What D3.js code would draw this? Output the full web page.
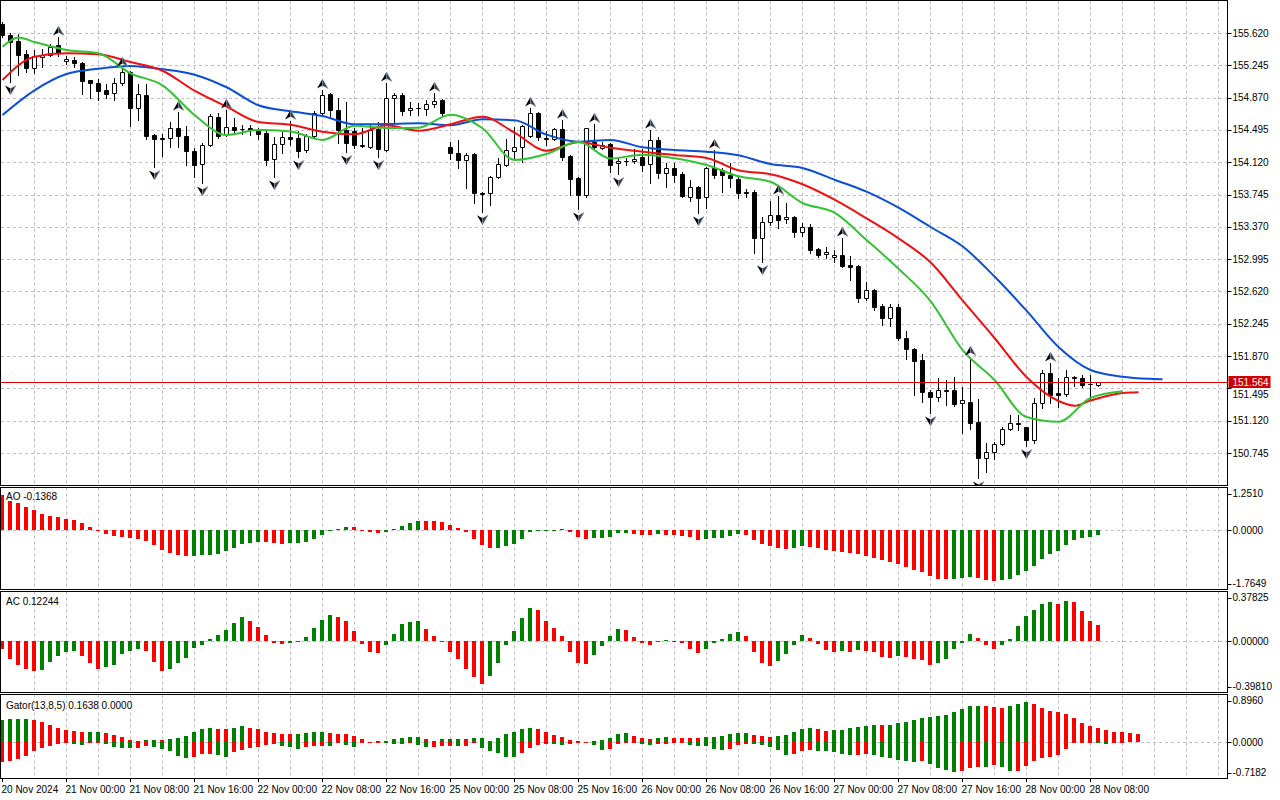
<!DOCTYPE html>
<html>
<head>
<meta charset="utf-8">
<script src="https://cdn.jsdelivr.net/npm/d3@7"></script>
<style>
  body { margin: 0; background: #fff; }
  svg { display: block; }
  text { font-family: "Liberation Sans", Arial, sans-serif; font-size: 10px; fill: #000; }
</style>
</head>
<body>
<svg id="chart" width="1280" height="800"></svg>
<script>
// USDJPY H1, 20 Nov 16:00 .. 28 Nov 09:00
var barOpen = [155.724,155.597,155.527,155.376,155.214,155.341,155.365,155.481,155.295,155.307,
  155.272,155.074,155.040,154.958,154.924,155.040,155.167,154.750,154.900,154.436,
  154.401,154.401,154.517,154.424,154.250,154.099,154.320,154.645,154.448,154.529,
  154.506,154.517,154.494,154.459,154.157,154.332,154.413,154.401,154.262,154.424,
  154.691,154.908,154.726,154.494,154.483,154.309,154.300,154.502,154.262,154.862,
  154.900,154.726,154.746,154.734,154.796,154.842,154.293,154.224,154.146,154.216,
  153.759,153.759,153.945,154.088,154.254,154.293,154.424,154.695,154.401,154.386,
  154.502,154.192,153.934,153.740,154.358,154.282,154.328,154.108,154.134,154.134,
  154.184,154.096,154.378,153.998,154.050,153.983,153.720,153.836,153.713,154.050,
  154.030,153.972,153.929,153.771,153.778,153.244,153.423,153.508,153.458,153.481,
  153.314,153.365,153.113,153.051,153.017,153.043,152.927,152.916,152.541,152.637,
  152.451,152.309,152.436,152.076,151.949,151.825,151.457,151.392,151.468,151.476,
  151.322,151.341,151.101,150.690,150.753,150.850,151.020,151.097,151.043,150.896,
  151.329,151.677,151.445,151.430,151.631,151.612,151.546,151.534];
var barHigh = [155.748,155.620,155.608,155.423,155.423,155.434,155.492,155.574,155.353,155.341,
  155.283,155.074,155.086,155.028,155.098,155.214,155.179,155.028,155.028,154.448,
  154.448,154.587,154.703,154.541,154.285,154.343,154.680,154.691,154.726,154.634,
  154.552,154.552,154.517,154.483,154.413,154.471,154.599,154.483,154.448,154.715,
  154.958,154.920,154.862,154.819,154.517,154.517,154.552,154.590,155.040,154.920,
  154.920,154.823,154.811,154.842,154.924,154.850,154.358,154.378,154.224,154.224,
  153.778,153.960,154.166,154.386,154.532,154.552,154.750,154.707,154.486,154.514,
  154.610,154.204,153.952,154.517,154.564,154.358,154.340,154.184,154.166,154.270,
  154.270,154.494,154.416,154.108,154.108,154.010,153.914,153.844,154.065,154.262,
  154.050,154.108,153.943,153.806,153.798,153.488,153.670,153.728,153.647,153.496,
  153.411,153.403,153.121,153.140,153.101,153.241,153.032,152.927,152.733,152.645,
  152.475,152.475,152.475,152.165,151.960,151.894,151.476,151.612,151.592,151.631,
  151.515,151.859,151.368,150.858,150.876,151.043,151.186,151.186,151.050,151.380,
  151.708,151.790,151.612,151.708,151.639,151.650,151.650,151.573];
var barLow = [155.574,155.051,155.133,155.167,155.156,155.225,155.353,155.353,155.260,155.225,
  154.912,154.866,154.842,154.866,154.842,155.016,154.541,154.610,154.390,154.065,
  154.192,154.297,154.297,154.088,153.949,153.879,154.309,154.401,154.424,154.471,
  154.448,154.436,154.390,154.088,153.949,154.227,154.320,154.181,154.239,154.413,
  154.680,154.642,154.340,154.239,154.285,154.297,154.282,154.181,154.250,154.590,
  154.668,154.668,154.668,154.668,154.765,154.668,154.154,154.050,153.817,153.643,
  153.546,153.624,153.934,154.076,154.146,154.126,154.416,154.378,154.320,154.378,
  154.146,153.740,153.577,153.716,154.282,154.274,154.007,153.983,154.088,154.115,
  154.022,153.875,153.934,153.829,153.894,153.713,153.673,153.531,153.585,153.934,
  153.778,153.836,153.701,153.713,153.063,152.962,153.391,153.353,153.411,153.249,
  153.264,153.070,153.024,153.005,152.965,152.904,152.753,152.501,152.521,152.405,
  152.231,152.223,152.057,151.833,151.418,151.341,151.209,151.352,151.302,151.291,
  150.981,151.020,150.455,150.528,150.672,150.838,151.012,151.012,150.826,150.858,
  151.264,151.322,151.283,151.407,151.523,151.515,151.368,151.523];
var barClose = [155.597,155.515,155.365,155.214,155.353,155.365,155.457,155.388,155.318,155.272,
  155.063,155.040,154.947,154.912,155.040,155.167,154.750,154.912,154.424,154.390,
  154.384,154.517,154.424,154.250,154.088,154.320,154.657,154.424,154.529,154.494,
  154.500,154.494,154.448,154.146,154.332,154.413,154.390,154.250,154.424,154.691,
  154.900,154.726,154.494,154.343,154.320,154.320,154.494,154.270,154.862,154.900,
  154.718,154.746,154.744,154.796,154.831,154.688,154.231,154.146,154.204,153.759,
  153.756,153.952,154.099,154.262,154.293,154.541,154.695,154.416,154.390,154.502,
  154.184,153.922,153.740,154.514,154.300,154.320,154.088,154.134,154.131,154.157,
  154.088,154.378,153.998,154.050,153.972,153.728,153.829,153.708,154.050,153.972,
  153.972,153.934,153.759,153.766,153.244,153.423,153.508,153.450,153.481,153.314,
  153.365,153.101,153.043,153.082,153.043,152.916,152.907,152.541,152.637,152.443,
  152.309,152.436,152.076,151.949,151.816,151.457,151.392,151.476,151.473,151.314,
  151.360,151.090,150.690,150.753,150.850,151.020,151.097,151.078,150.896,151.329,
  151.677,151.418,151.418,151.624,151.612,151.534,151.542,151.564];

// Alligator lines, read at every 4th bar (already shifted forward)
var jawBars = [0,4,8,12,16,20,24,28,32,36,40,44,48,52,56,60,64,68,72,76,80,84,88,92,96,100,104,108,112,116,120,124,128,132,136,140,144,145];
var jawValues = [154.668,154.955,155.144,155.206,155.237,155.199,155.136,154.990,154.781,154.711,
  154.657,154.560,154.564,154.572,154.549,154.618,154.607,154.440,154.358,154.378,
  154.293,154.262,154.242,154.200,154.099,154.053,153.917,153.778,153.592,153.368,
  153.144,152.794,152.397,151.975,151.708,151.631,151.604,151.600];
var teethBars = [0,4,8,12,16,20,24,28,32,36,40,44,48,52,56,60,64,68,72,76,80,84,88,92,96,100,104,108,112,116,120,124,128,132,134,136,140,142];
var teethValues = [155.074,155.345,155.384,155.373,155.283,155.182,154.950,154.765,154.587,154.556,
  154.474,154.444,154.549,154.486,154.560,154.648,154.463,154.254,154.351,154.288,
  154.242,154.204,154.169,154.026,153.980,153.864,153.685,153.469,153.237,152.958,
  152.517,152.080,151.627,151.349,151.294,151.353,151.442,151.450];
var lipsBars = [0,2,4,8,12,16,20,24,28,32,36,40,44,48,52,56,60,64,68,72,76,80,84,88,92,96,100,104,108,112,116,120,124,128,132,136,140];
var lipsValues = [155.461,155.568,155.516,155.423,155.384,155.152,155.013,154.668,154.436,154.494,
  154.477,154.378,154.544,154.517,154.521,154.672,154.514,154.146,154.216,154.358,
  154.163,154.207,154.166,154.088,153.957,153.894,153.647,153.534,153.217,152.884,
  152.509,151.941,151.592,151.163,151.108,151.383,151.461];

var upFractals = [7,15,22,28,36,40,48,54,66,70,74,81,89,97,105,121,131];
var downFractals = [1,19,25,34,37,43,47,60,72,77,87,95,116,122,128];

var aoValues = [1.06,0.88,0.83,0.71,0.60,0.48,0.43,0.40,0.35,0.31,
  0.23,0.09,0.02,-0.10,-0.16,-0.20,-0.23,-0.26,-0.32,-0.43,
  -0.60,-0.68,-0.76,-0.79,-0.78,-0.75,-0.74,-0.72,-0.62,-0.54,
  -0.40,-0.37,-0.35,-0.36,-0.37,-0.40,-0.38,-0.37,-0.35,-0.26,
  -0.13,0.01,0.03,0.10,0.09,-0.02,-0.04,-0.07,-0.04,0.03,
  0.13,0.23,0.29,0.28,0.27,0.25,0.17,0.07,-0.06,-0.25,
  -0.43,-0.54,-0.53,-0.47,-0.41,-0.25,-0.06,-0.02,0.01,0.02,
  0.03,-0.06,-0.19,-0.25,-0.24,-0.23,-0.19,-0.09,-0.07,-0.10,
  -0.13,-0.14,-0.10,-0.13,-0.14,-0.16,-0.20,-0.28,-0.27,-0.23,
  -0.22,-0.16,-0.12,-0.13,-0.28,-0.40,-0.46,-0.53,-0.55,-0.53,
  -0.46,-0.51,-0.53,-0.59,-0.61,-0.65,-0.70,-0.73,-0.77,-0.83,
  -0.91,-0.97,-1.02,-1.11,-1.19,-1.25,-1.38,-1.46,-1.48,-1.46,
  -1.45,-1.40,-1.44,-1.50,-1.52,-1.50,-1.46,-1.34,-1.22,-1.07,
  -0.88,-0.73,-0.61,-0.43,-0.30,-0.24,-0.19,-0.1368];
var acValues = [-0.057,-0.14,-0.18,-0.21,-0.23,-0.22,-0.16,-0.11,-0.08,-0.075,
  -0.11,-0.17,-0.21,-0.20,-0.18,-0.10,-0.075,-0.057,-0.075,-0.16,
  -0.23,-0.21,-0.17,-0.13,-0.05,-0.025,0.018,0.05,0.09,0.14,
  0.19,0.16,0.11,0.05,-0.01,-0.02,-0.01,0.003,0.03,0.10,
  0.165,0.20,0.19,0.16,0.08,-0.02,-0.08,-0.09,-0.03,0.06,
  0.13,0.15,0.16,0.095,0.04,0.002,-0.08,-0.14,-0.21,-0.275,
  -0.33,-0.265,-0.165,-0.03,0.077,0.18,0.26,0.24,0.16,0.10,
  0.044,-0.08,-0.17,-0.175,-0.105,-0.033,0.04,0.095,0.088,0.033,
  -0.01,-0.03,-0.003,0.01,0.002,-0.013,-0.06,-0.09,-0.06,-0.013,
  0.018,0.06,0.072,0.04,-0.08,-0.17,-0.19,-0.15,-0.10,-0.03,
  0.05,0.023,-0.018,-0.067,-0.08,-0.075,-0.08,-0.07,-0.075,-0.085,
  -0.12,-0.13,-0.115,-0.12,-0.14,-0.145,-0.18,-0.17,-0.135,-0.06,
  -0.013,0.06,0.023,-0.025,-0.06,-0.03,0.018,0.118,0.195,0.24,
  0.288,0.302,0.288,0.309,0.302,0.233,0.156,0.12244];
var gatorUpper = [0.43,0.45,0.455,0.46,0.43,0.39,0.335,0.28,0.245,0.22,
  0.20,0.203,0.206,0.18,0.14,0.10,0.045,0.025,0.045,0.047,
  0.044,0.07,0.09,0.12,0.20,0.26,0.28,0.265,0.26,0.28,
  0.32,0.28,0.26,0.20,0.18,0.16,0.158,0.16,0.18,0.20,
  0.202,0.18,0.16,0.158,0.12,0.065,0.006,0.026,0.032,0.065,
  0.09,0.11,0.112,0.065,0.025,0.065,0.067,0.07,0.065,0.085,
  0.087,0.025,0.085,0.16,0.20,0.26,0.28,0.26,0.20,0.14,
  0.10,0.045,0.025,0.006,0.026,0.045,0.085,0.16,0.18,0.12,
  0.085,0.065,0.085,0.10,0.085,0.083,0.08,0.078,0.10,0.105,
  0.12,0.16,0.18,0.182,0.14,0.12,0.10,0.122,0.14,0.20,
  0.26,0.28,0.26,0.22,0.24,0.242,0.28,0.30,0.32,0.335,
  0.334,0.336,0.375,0.395,0.43,0.47,0.49,0.51,0.53,0.59,
  0.645,0.70,0.702,0.70,0.68,0.67,0.70,0.74,0.78,0.74,
  0.66,0.60,0.585,0.55,0.47,0.375,0.315,0.277,0.24,0.20,
  0.198,0.18,0.1638];
var gatorLower = [-0.375,-0.355,-0.32,-0.265,-0.16,-0.11,-0.065,-0.03,-0.01,-0.03,
  -0.05,-0.013,-0.01,-0.035,-0.10,-0.11,-0.115,-0.11,-0.07,-0.09,
  -0.135,-0.165,-0.265,-0.31,-0.29,-0.22,-0.218,-0.245,-0.285,-0.19,
  -0.15,-0.11,-0.097,-0.05,-0.03,-0.07,-0.09,-0.13,-0.09,-0.07,
  -0.068,-0.07,-0.02,-0.05,-0.09,-0.015,-0.005,-0.003,-0.015,-0.03,
  -0.04,-0.01,-0.05,-0.09,-0.085,-0.07,-0.068,-0.072,-0.07,-0.013,
  -0.11,-0.16,-0.205,-0.285,-0.286,-0.205,-0.11,-0.05,-0.025,-0.03,
  -0.05,-0.03,-0.013,-0.006,-0.05,-0.15,-0.13,-0.03,-0.015,-0.01,
  -0.03,-0.05,-0.03,-0.028,-0.01,-0.005,-0.05,-0.07,-0.072,-0.13,
  -0.15,-0.13,-0.05,-0.03,-0.035,-0.045,-0.09,-0.15,-0.245,-0.225,
  -0.17,-0.15,-0.17,-0.172,-0.19,-0.225,-0.245,-0.244,-0.225,-0.245,
  -0.285,-0.30,-0.34,-0.36,-0.38,-0.36,-0.42,-0.50,-0.535,-0.575,
  -0.555,-0.50,-0.48,-0.485,-0.44,-0.475,-0.555,-0.553,-0.46,-0.36,
  -0.30,-0.285,-0.245,-0.13,-0.01,-0.005,-0.003,-0.02,-0.025,-0.005,
  0];

var priceTicks = [155.620,155.245,154.870,154.495,154.120,153.745,153.370,152.995,152.620,152.245,151.870,151.495,151.120,150.745];
var aoTicks = [1.2510, 0, -1.7649];
var acTicks = [0.37825, 0, -0.39810];
var gatorTicks = [0.8960, 0, -0.7182];
var timeLabels = ['20 Nov 2024','21 Nov 00:00','21 Nov 08:00','21 Nov 16:00','22 Nov 00:00','22 Nov 08:00',
  '22 Nov 16:00','25 Nov 00:00','25 Nov 08:00','25 Nov 16:00','26 Nov 00:00','26 Nov 08:00',
  '26 Nov 16:00','27 Nov 00:00','27 Nov 08:00','27 Nov 16:00','28 Nov 00:00','28 Nov 08:00'];
var timeLabelBars = d3.range(0, 137, 8);

var svg = d3.select('#chart');
var axisX = 1227.5;
var green = '#008000', red = '#ff0000', gridColor = '#c2bacb';

var panes = {
  main: { top: 0.5, bottom: 485.5 },
  ao: { top: 487.5, bottom: 589.5 },
  ac: { top: 591.5, bottom: 692.5 },
  gator: { top: 694.5, bottom: 778.5 }
};

// one bar every 8 px
var xScale = d3.scaleLinear().domain([0, 1]).range([2.5, 10.5]);
var yMain = d3.scaleLinear().domain([150.745, 155.620]).range([453, 33]);
var yAO = d3.scaleLinear().domain([-1.7649, 1.2510]).range([588.8, 488.8]);
var yAC = d3.scaleLinear().domain([-0.39810, 0.37825]).range([692.9, 592.3]);
var yGator = d3.scaleLinear().domain([-0.7182, 0.8960]).range([779.4, 696]);

var defs = svg.append('defs');
Object.keys(panes).forEach(function (k) {
  defs.append('clipPath').attr('id', 'clip-' + k)
    .append('rect')
    .attr('x', 1).attr('y', panes[k].top + 0.5)
    .attr('width', axisX - 1.5).attr('height', panes[k].bottom - panes[k].top - 1);
});

// grid
var gridBars = d3.range(4, 153, 4);
Object.keys(panes).forEach(function (k) {
  svg.append('g').attr('clip-path', 'url(#clip-' + k + ')')
    .selectAll('line').data(gridBars).enter().append('line')
    .attr('x1', function (d) { return xScale(d); })
    .attr('x2', function (d) { return xScale(d); })
    .attr('y1', panes[k].top).attr('y2', panes[k].bottom)
    .attr('stroke', gridColor).attr('stroke-dasharray', '3,3');
});
function hGrid(values, scale) {
  svg.append('g').selectAll('line').data(values).enter().append('line')
    .attr('x1', 1).attr('x2', axisX)
    .attr('y1', function (d) { return Math.round(scale(d)) + 0.5; })
    .attr('y2', function (d) { return Math.round(scale(d)) + 0.5; })
    .attr('stroke', gridColor).attr('stroke-dasharray', '3,3');
}
hGrid(priceTicks, yMain);
hGrid([0], yAO);
hGrid([0], yAC);
hGrid([0], yGator);

// histograms
function colorByChange(values, firstColor, useAbs) {
  return values.map(function (v, i) {
    if (i === 0) return firstColor;
    var a = useAbs ? Math.abs(v) : v;
    var b = useAbs ? Math.abs(values[i - 1]) : values[i - 1];
    return a > b ? green : red;
  });
}
function histogram(values, colors, scale, clip) {
  svg.append('g').attr('clip-path', 'url(#clip-' + clip + ')')
    .selectAll('rect').data(values).enter().append('rect')
    .attr('shape-rendering', 'crispEdges')
    .attr('x', function (d, i) { return xScale(i) - 2.5; })
    .attr('width', 4)
    .attr('y', function (d) { return Math.min(scale(0), scale(d)); })
    .attr('height', function (d) { return Math.max(1, Math.abs(scale(d) - scale(0))); })
    .attr('fill', function (d, i) { return colors[i]; });
}
histogram(aoValues, colorByChange(aoValues, red, false), yAO, 'ao');
histogram(acValues, colorByChange(acValues, red, false), yAC, 'ac');
histogram(gatorUpper, colorByChange(gatorUpper, green, true), yGator, 'gator');
histogram(gatorLower, colorByChange(gatorLower, red, true), yGator, 'gator');

// candles
var mainG = svg.append('g').attr('clip-path', 'url(#clip-main)');
var bars = d3.range(barOpen.length);
mainG.selectAll('line.wick').data(bars).enter().append('line')
  .attr('x1', function (i) { return xScale(i); })
  .attr('x2', function (i) { return xScale(i); })
  .attr('y1', function (i) { return Math.round(yMain(barHigh[i])); })
  .attr('y2', function (i) { return Math.round(yMain(barLow[i])) + 1; })
  .attr('stroke', '#000');
mainG.selectAll('path.body').data(bars).enter().append('path')
  .attr('d', function (i) {
    var t = Math.round(yMain(Math.max(barOpen[i], barClose[i]))) + 0.5;
    var b = Math.round(yMain(Math.min(barOpen[i], barClose[i]))) + 0.5;
    var x0 = xScale(i) - 2;
    return 'M' + x0 + ',' + t + 'h4V' + b + 'h-4Z';
  })
  .attr('fill', function (i) { return barClose[i] >= barOpen[i] ? '#fff' : '#000'; })
  .attr('stroke', '#000');

// alligator
function alligatorLine(idx, values, color) {
  var line = d3.line()
    .x(function (d) { return xScale(idx[d]); })
    .y(function (d) { return yMain(values[d]); })
    .curve(d3.curveMonotoneX);
  mainG.append('path').attr('d', line(d3.range(idx.length)))
    .attr('fill', 'none').attr('stroke', color).attr('stroke-width', 2);
}
alligatorLine(jawBars, jawValues, '#0a4fd6');
alligatorLine(teethBars, teethValues, '#f01010');
alligatorLine(lipsBars, lipsValues, '#33c233');

// fractals: two-tone arrowheads
function arrow(sel, dir) {
  sel.append('path').attr('d', 'M0,' + (-5 * dir) + 'L-5.5,' + (4.5 * dir) + 'L0,' + (1.5 * dir) + 'Z')
    .attr('fill', '#000');
  sel.append('path').attr('d', 'M0,' + (-5 * dir) + 'L5.5,' + (4.5 * dir) + 'L0,' + (1.5 * dir) + 'Z')
    .attr('fill', '#3a3a3a').attr('stroke', '#8a9ab8').attr('stroke-width', 0.6);
}
mainG.selectAll('g.up').data(upFractals).enter().append('g')
  .attr('transform', function (i) { return 'translate(' + xScale(i) + ',' + (yMain(barHigh[i]) - 6) + ')'; })
  .call(arrow, 1);
mainG.selectAll('g.down').data(downFractals).enter().append('g')
  .attr('transform', function (i) { return 'translate(' + xScale(i) + ',' + (yMain(barLow[i]) + 8) + ')'; })
  .call(arrow, -1);

// current price line
var lastPrice = barClose[barClose.length - 1];
var yLast = Math.round(yMain(lastPrice)) + 0.5;
svg.append('line').attr('x1', 1).attr('x2', axisX).attr('y1', yLast).attr('y2', yLast)
  .attr('stroke', '#e00000');

// pane frames
Object.keys(panes).forEach(function (k) {
  svg.append('rect').attr('x', 0.5).attr('y', panes[k].top)
    .attr('width', axisX - 0.5).attr('height', panes[k].bottom - panes[k].top)
    .attr('fill', 'none').attr('stroke', '#000');
});

// right axis labels
function axisLabels(values, scale, pane, digits) {
  var g = svg.append('g');
  values.forEach(function (v) {
    var y = Math.max(pane.top + 6, Math.min(pane.bottom - 6, scale(v)));
    var ty = y;
    // the tag of the last price sits over this label, push it below the tag
    if (pane.tag && Math.abs(y - yLast) < 12) ty = yLast + 12;
    g.append('line').attr('x1', axisX).attr('x2', axisX + 4)
      .attr('y1', Math.round(y) + 0.5).attr('y2', Math.round(y) + 0.5).attr('stroke', '#000');
    g.append('text').attr('x', axisX + 5).attr('y', ty).attr('dy', '0.35em')
      .text(v.toFixed(digits));
  });
}
axisLabels(priceTicks, yMain, { top: 0, bottom: 486, tag: true }, 3);
axisLabels(aoTicks, yAO, panes.ao, 4);
axisLabels(acTicks, yAC, panes.ac, 5);
axisLabels(gatorTicks, yGator, panes.gator, 4);

// last price tag
svg.append('rect').attr('x', axisX + 1).attr('y', yLast - 6.5).attr('width', 42).attr('height', 12)
  .attr('fill', '#d00000');
svg.append('text').attr('x', axisX + 5).attr('y', yLast).attr('dy', '0.35em')
  .style('fill', '#fff').text(lastPrice.toFixed(3));

// pane titles
svg.append('text').attr('x', 6).attr('y', 496).attr('dy', '0.35em')
  .text('AO ' + aoValues[aoValues.length - 1].toFixed(4));
svg.append('text').attr('x', 6).attr('y', 601).attr('dy', '0.35em')
  .text('AC ' + acValues[acValues.length - 1].toFixed(5));
svg.append('text').attr('x', 6).attr('y', 705).attr('dy', '0.35em')
  .text('Gator(13,8,5) ' + gatorUpper[gatorUpper.length - 1].toFixed(4) + ' ' +
    Math.abs(gatorLower[gatorLower.length - 1]).toFixed(4));

// time axis
var timeG = svg.append('g');
timeLabelBars.forEach(function (b, k) {
  timeG.append('line').attr('x1', xScale(b)).attr('x2', xScale(b))
    .attr('y1', 778.5).attr('y2', 782).attr('stroke', '#000');
  timeG.append('text').attr('x', xScale(b) - 1).attr('y', 789).attr('dy', '0.35em')
    .text(timeLabels[k]);
});
</script>
</body>
</html>
